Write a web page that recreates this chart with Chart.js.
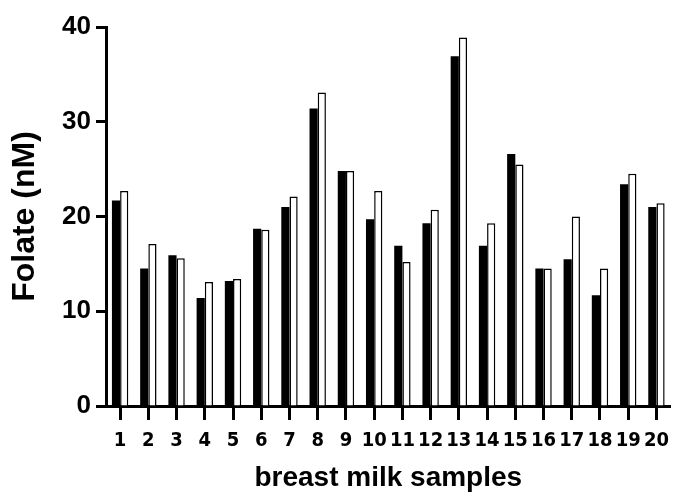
<!DOCTYPE html>
<html>
<head>
<meta charset="utf-8">
<script src="https://cdn.jsdelivr.net/npm/chart.js@4/dist/chart.umd.min.js"></script>
<style>
  html, body { margin: 0; padding: 0; background: #fff; }
  #wrap { width: 678px; height: 492px; }
</style>
</head>
<body>
<div id="wrap"><canvas id="grafico"></canvas></div>
<script>
// Datos
const muestras = ["1","2","3","4","5","6","7","8","9","10","11","12","13","14","15","16","17","18","19","20"];
const serieNegra = [21.7, 14.5, 15.9, 11.4, 13.2, 18.7, 21.0, 31.4, 24.8, 19.7, 16.9, 19.3, 36.9, 16.9, 26.6, 14.5, 15.5, 11.7, 23.4, 21.0];
const serieBlanca = [22.7, 17.1, 15.6, 13.1, 13.4, 18.6, 22.1, 33.1, 24.8, 22.7, 15.2, 20.7, 38.9, 19.3, 25.5, 14.5, 20.0, 14.5, 24.5, 21.4];
const ticksY = [0, 10, 20, 30, 40];

const FUENTE = "'Liberation Sans', Arial, sans-serif";
const FUENTE_NARROW = "'DejaVu Sans Condensed', 'Liberation Sans Narrow', 'Liberation Sans', sans-serif";

new Chart(document.getElementById("grafico"), {
  type: "bar",
  data: {
    labels: muestras,
    datasets: [
      {
        data: serieNegra,
        backgroundColor: "#000",
        borderColor: "#000",
        borderWidth: 0,
        categoryPercentage: 0.58,
        barPercentage: 1.0
      },
      {
        data: serieBlanca,
        backgroundColor: "#fff",
        borderColor: "#000",
        borderWidth: 1.5,
        borderSkipped: "bottom",
        categoryPercentage: 0.58,
        barPercentage: 1.0
      }
    ]
  },
  options: {
    responsive: true,
    maintainAspectRatio: false,
    animation: false,
    layout: { padding: { top: 27, right: 1, left: 0, bottom: 0 } },
    plugins: {
      legend: { display: false },
      tooltip: { enabled: false }
    },
    scales: {
      x: {
        offset: true,
        grid: {
          offset: false,
          drawOnChartArea: false,
          drawTicks: true,
          tickLength: 14,
          tickWidth: 3,
          tickColor: "#000"
        },
        border: { color: "#000", width: 3 },
        ticks: {
          color: "#000",
          padding: 9,
          maxRotation: 0,
          autoSkip: false,
          font: { family: FUENTE_NARROW, size: 20, weight: "bold" }
        },
        title: {
          display: true,
          text: "breast milk samples",
          color: "#000",
          padding: { top: 0, bottom: 0 },
          font: { family: FUENTE, size: 28, weight: "bold", lineHeight: 1.0 }
        },
        afterFit: (scale) => { scale.height = 86; }
      },
      y: {
        min: 0,
        max: 40,
        afterBuildTicks: (scale) => { scale.ticks = ticksY.map(v => ({ value: v })); },
        grid: {
          drawOnChartArea: false,
          drawTicks: true,
          tickLength: 10,
          tickWidth: 3,
          tickColor: "#000"
        },
        border: { color: "#000", width: 3 },
        ticks: {
          color: "#000",
          padding: 5,
          font: { family: FUENTE, size: 26, weight: "bold" }
        },
        title: {
          display: true,
          text: "Folate (nM)",
          color: "#000",
          padding: { top: 6, bottom: 0 },
          font: { family: FUENTE, size: 32, weight: "bold" }
        },
        afterFit: (scale) => { scale.width = 106; }
      }
    }
  }
});
</script>
</body>
</html>
